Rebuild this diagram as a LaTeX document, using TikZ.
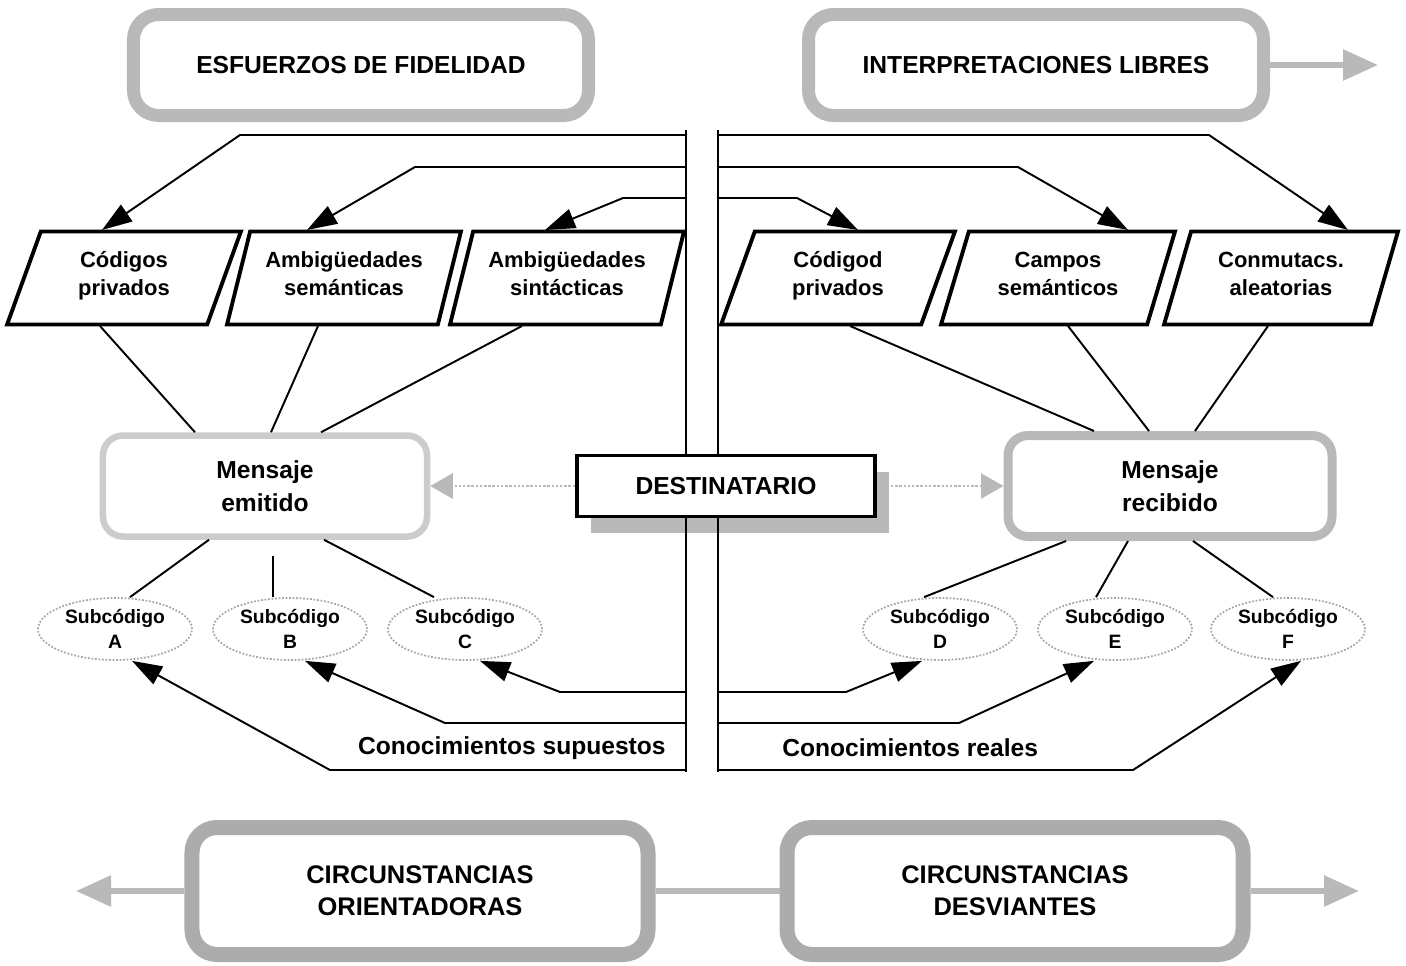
\documentclass[tikz,border=0pt]{standalone}
\usepackage{fontspec}
\setmainfont{Liberation Sans}
\usetikzlibrary{shapes.geometric, arrows.meta, positioning, calc, shadows}

\begin{document}
\begin{tikzpicture}[
    x=0.2mm, y=-0.2mm,
    bigbox/.style={rectangle, rounded corners=5mm, draw=gray!55, line width=2.6mm, fill=white, minimum width=91mm, minimum height=20.2mm, align=center, font=\bfseries\fontsize{14}{18}\selectfont},
    lowbox/.style={bigbox, draw=gray!65, line width=3mm, minimum width=91.2mm, minimum height=25.4mm, font=\bfseries\fontsize{14.5}{18}\selectfont},
    para/.style={trapezium, trapezium left angle=72, trapezium right angle=108, trapezium stretches=true, draw=black, line width=2.2pt, fill=white, minimum width=46.8mm, minimum height=18.6mm, align=center, execute at begin node=\strut, execute at end node=\strut, font=\bfseries\fontsize{12.5}{16}\selectfont},
    msg/.style={rectangle, rounded corners=4mm, draw=gray!40, line width=1.3mm, minimum width=64.8mm, minimum height=20.2mm, align=center, font=\bfseries\fontsize{14}{19}\selectfont},
    subc/.style={ellipse, draw=gray!70, densely dotted, line width=1pt, minimum width=30.8mm, minimum height=12.4mm, inner sep=0pt, align=center, font=\bfseries\fontsize{11}{14}\selectfont},
    dest/.style={rectangle, draw=black, line width=2.2pt, fill=white, minimum width=59.6mm, minimum height=12.2mm, font=\bfseries\fontsize{14}{17}\selectfont, drop shadow={shadow xshift=2.8mm, shadow yshift=-3.2mm, fill=gray!55, opacity=1}},
    know/.style={font=\bfseries\fontsize{14}{17}\selectfont, inner sep=0pt},
    arrow/.style={line width=1.1pt, -{Triangle[length=6mm, width=4mm]}},
    link/.style={line width=1.1pt},
    divider/.style={line width=0.9pt},
    grayarrow/.style={draw=gray!55, line width=1.2mm, -{Triangle[length=7mm, width=6mm]}},
    dotarrow/.style={draw=gray!55, line width=1.4pt, densely dotted, -{Triangle[length=4.5mm, width=5mm]}}
]
\useasboundingbox (0,0) rectangle (1406,965);

% marcos de arriba y de abajo
\node[bigbox] (fidel) at (361,65) {ESFUERZOS DE FIDELIDAD};
\node[bigbox] (libres) at (1036,65) {INTERPRETACIONES LIBRES};
\node[lowbox] (orient) at (420,891) {CIRCUNSTANCIAS\\ORIENTADORAS};
\node[lowbox] (desv) at (1015,891) {CIRCUNSTANCIAS\\DESVIANTES};

% codigos
\node[para] (pA) at (124,278) {Códigos\\privados};
\node[para] (pB) at (344,278) {Ambigüedades\\semánticas};
\node[para] (pC) at (567,278) {Ambigüedades\\sintácticas};
\node[para] (pD) at (838,278) {Códigod\\privados};
\node[para] (pE) at (1058,278) {Campos\\semánticos};
\node[para] (pF) at (1281,278) {Conmutacs.\\aleatorias};

% mensajes y destinatario
\node[msg] (emit) at (265,486) {Mensaje\\emitido};
\node[msg, draw=gray!55, line width=1.8mm] (recib) at (1170,486) {Mensaje\\recibido};
\node[dest] (dest) at (726,486) {DESTINATARIO};

% subcodigos
\node[subc] (sA) at (115,629) {Subcódigo\\A};
\node[subc] (sB) at (290,629) {Subcódigo\\B};
\node[subc] (sC) at (465,629) {Subcódigo\\C};
\node[subc] (sD) at (940,629) {Subcódigo\\D};
\node[subc] (sE) at (1115,629) {Subcódigo\\E};
\node[subc] (sF) at (1288,629) {Subcódigo\\F};

\node[know, anchor=east] (supu) at (666,748) {Conocimientos supuestos};
\node[know, anchor=west] (reales) at (782,748) {Conocimientos reales};

% divisorias
\coordinate (divLtop) at (686,130);
\coordinate (divLbot) at (686,772);
\coordinate (divRtop) at (718,130);
\coordinate (divRbot) at (718,772);
\draw[divider] (divLtop) -- (divLtop |- dest.north);
\draw[divider] (divLtop |- dest.south) -- (divLbot);
\draw[divider] (divRtop) -- (divRtop |- dest.north);
\draw[divider] (divRtop |- dest.south) -- (divRbot);

% entradas desde arriba
\coordinate (fL1) at (686,135);
\coordinate (fL2) at (686,167);
\coordinate (fL3) at (686,198);
\coordinate (fR1) at (718,135);
\coordinate (fR2) at (718,167);
\coordinate (fR3) at (718,198);
\draw[arrow] (fL1) -- (240,135) -- ($(pA.center)+(-22,-48)$);
\draw[arrow] (fL2) -- (415,167) -- ($(pB.center)+(-37,-48)$);
\draw[arrow] (fL3) -- (623,198) -- ($(pC.center)+(-22,-48)$);
\draw[arrow] (fR1) -- (1209,135) -- ($(pF.center)+(67,-48)$);
\draw[arrow] (fR2) -- (1018,167) -- ($(pE.center)+(70,-48)$);
\draw[arrow] (fR3) -- (797,198) -- ($(pD.center)+(20,-48)$);

% codigos a mensajes
\draw[link] ($(pA.center)+(-24,48)$) -- ($(emit.north)+(-70,0)$);
\draw[link] ($(pB.center)+(-26,48)$) -- ($(emit.north)+(6,0)$);
\draw[link] ($(pC.center)+(-45,48)$) -- ($(emit.north)+(56,0)$);
\draw[link] ($(pD.center)+(12,48)$) -- ($(recib.north)+(-76,0)$);
\draw[link] ($(pE.center)+(10,48)$) -- ($(recib.north)+(-21,0)$);
\draw[link] ($(pF.center)+(-13,48)$) -- ($(recib.north)+(25,0)$);

% mensajes a subcodigos
\draw[link] ($(emit.south)+(-56,0)$) -- ($(sA.north)+(15,0)$);
\draw[link] ($(emit.south)+(8,16)$) -- ($(sB.north)+(-17,0)$);
\draw[link] ($(emit.south)+(59,0)$) -- ($(sC.north)+(-31,0)$);
\draw[link] ($(recib.south)+(-104,0)$) -- ($(sD.north)+(-16,0)$);
\draw[link] ($(recib.south)+(-42,0)$) -- ($(sE.north)+(-19,0)$);
\draw[link] ($(recib.south)+(23,0)$) -- ($(sF.north)+(-15,0)$);

% conocimientos
\coordinate (kL1) at (686,692);
\coordinate (kL2) at (686,723);
\coordinate (kL3) at (686,770);
\coordinate (kR1) at (718,692);
\coordinate (kR2) at (718,723);
\coordinate (kR3) at (718,770);
\draw[arrow] (kL1) -- (560,692) -- ($(sC.south)+(15,0)$);
\draw[arrow] (kL2) -- (445,723) -- ($(sB.south)+(15,0)$);
\draw[arrow] (kL3) -- (330,770) -- ($(sA.south)+(17,0)$);
\draw[arrow] (kR1) -- (846,692) -- ($(sD.south)+(-18,0)$);
\draw[arrow] (kR2) -- (959,723) -- ($(sE.south)+(-21,0)$);
\draw[arrow] (kR3) -- (1133,770) -- ($(sF.south)+(13,0)$);

% flechas grises
\coordinate (outTop) at (1378,65);
\coordinate (outLeft) at (76,891);
\coordinate (outRight) at (1359,891);
\draw[grayarrow] (libres.east) -- (outTop);
\draw[grayarrow] (orient.west) -- (outLeft);
\draw[draw=gray!55, line width=1.2mm] (orient.east) -- (desv.west);
\draw[grayarrow] (desv.east) -- (outRight);
\draw[dotarrow] (dest.west) -- (emit.east);
\draw[dotarrow] ($(dest.east)+(14,0)$) -- (recib.west);

\end{tikzpicture}
\end{document}
